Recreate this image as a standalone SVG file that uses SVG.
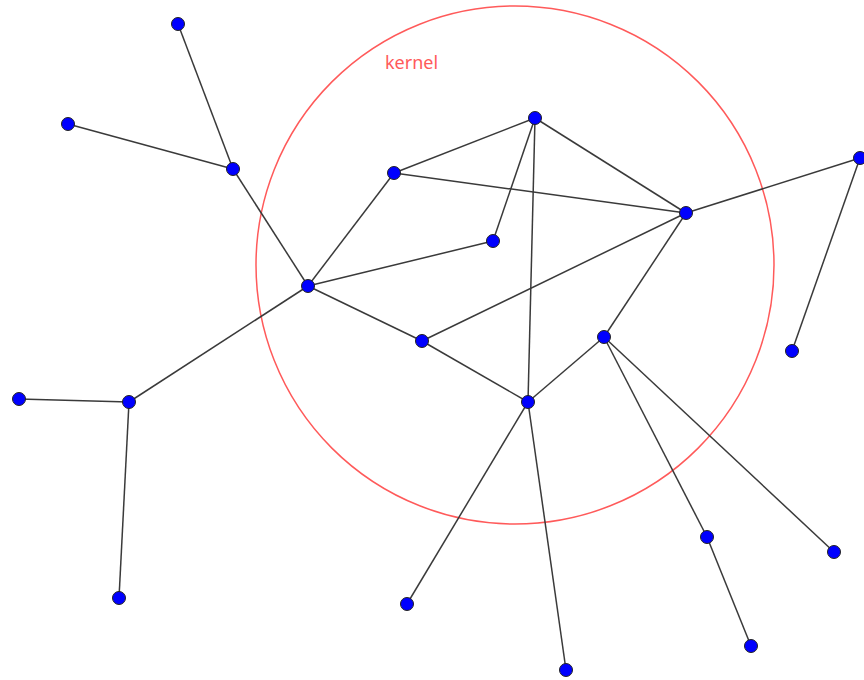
<svg xmlns="http://www.w3.org/2000/svg" width="864" height="680" viewBox="0 0 864 680">
<style>
.e{stroke:#3a3a3a;stroke-width:1.5;fill:none}
.n{fill:#0000ff;stroke:#222;stroke-width:1}
.k{fill:none;stroke:#ff5a5a;stroke-width:1.5}
.t{font-family:"Noto Sans","Liberation Sans",sans-serif;font-size:18px;fill:#ff5a5a}
</style>
<rect width="864" height="680" fill="#fff"/>
<circle class="k" cx="515" cy="265" r="259"/>
<text class="t" x="385" y="69">kernel</text>
<g id="edges">
<line class="e" x1="178" y1="24" x2="233" y2="169"/>
<line class="e" x1="68" y1="124" x2="233" y2="169"/>
<line class="e" x1="233" y1="169" x2="308" y2="286"/>
<line class="e" x1="308" y1="286" x2="394" y2="173"/>
<line class="e" x1="308" y1="286" x2="493" y2="241"/>
<line class="e" x1="308" y1="286" x2="422" y2="341"/>
<line class="e" x1="308" y1="286" x2="129" y2="402"/>
<line class="e" x1="129" y1="402" x2="19" y2="399"/>
<line class="e" x1="129" y1="402" x2="119" y2="598"/>
<line class="e" x1="394" y1="173" x2="535" y2="118"/>
<line class="e" x1="394" y1="173" x2="686" y2="213"/>
<line class="e" x1="535" y1="118" x2="493" y2="241"/>
<line class="e" x1="535" y1="118" x2="686" y2="213"/>
<line class="e" x1="535" y1="118" x2="528" y2="402"/>
<line class="e" x1="686" y1="213" x2="860" y2="158"/>
<line class="e" x1="860" y1="158" x2="792" y2="351"/>
<line class="e" x1="686" y1="213" x2="422" y2="341"/>
<line class="e" x1="686" y1="213" x2="604" y2="337"/>
<line class="e" x1="422" y1="341" x2="528" y2="402"/>
<line class="e" x1="604" y1="337" x2="528" y2="402"/>
<line class="e" x1="528" y1="402" x2="407" y2="604"/>
<line class="e" x1="528" y1="402" x2="566" y2="670"/>
<line class="e" x1="604" y1="337" x2="707" y2="537"/>
<line class="e" x1="707" y1="537" x2="751" y2="646"/>
<line class="e" x1="604" y1="337" x2="834" y2="552"/>
</g>
<g id="nA"><circle class="n" cx="178" cy="24" r="6.5"/></g>
<g id="nB"><circle class="n" cx="68" cy="124" r="6.5"/></g>
<g id="nC"><circle class="n" cx="233" cy="169" r="6.5"/></g>
<g id="nD"><circle class="n" cx="308" cy="286" r="6.5"/></g>
<g id="nE"><circle class="n" cx="394" cy="173" r="6.5"/></g>
<g id="nF"><circle class="n" cx="535" cy="118" r="6.5"/></g>
<g id="nG"><circle class="n" cx="493" cy="241" r="6.5"/></g>
<g id="nH"><circle class="n" cx="686" cy="213" r="6.5"/></g>
<g id="nI"><circle class="n" cx="860" cy="158" r="6.5"/></g>
<g id="nJ"><circle class="n" cx="792" cy="351" r="6.5"/></g>
<g id="nK"><circle class="n" cx="422" cy="341" r="6.5"/></g>
<g id="nL"><circle class="n" cx="604" cy="337" r="6.5"/></g>
<g id="nM"><circle class="n" cx="528" cy="402" r="6.5"/></g>
<g id="nN"><circle class="n" cx="19" cy="399" r="6.5"/></g>
<g id="nO"><circle class="n" cx="129" cy="402" r="6.5"/></g>
<g id="nP"><circle class="n" cx="119" cy="598" r="6.5"/></g>
<g id="nQ"><circle class="n" cx="407" cy="604" r="6.5"/></g>
<g id="nR"><circle class="n" cx="566" cy="670" r="6.5"/></g>
<g id="nS"><circle class="n" cx="707" cy="537" r="6.5"/></g>
<g id="nT"><circle class="n" cx="751" cy="646" r="6.5"/></g>
<g id="nU"><circle class="n" cx="834" cy="552" r="6.5"/></g>
</svg>
